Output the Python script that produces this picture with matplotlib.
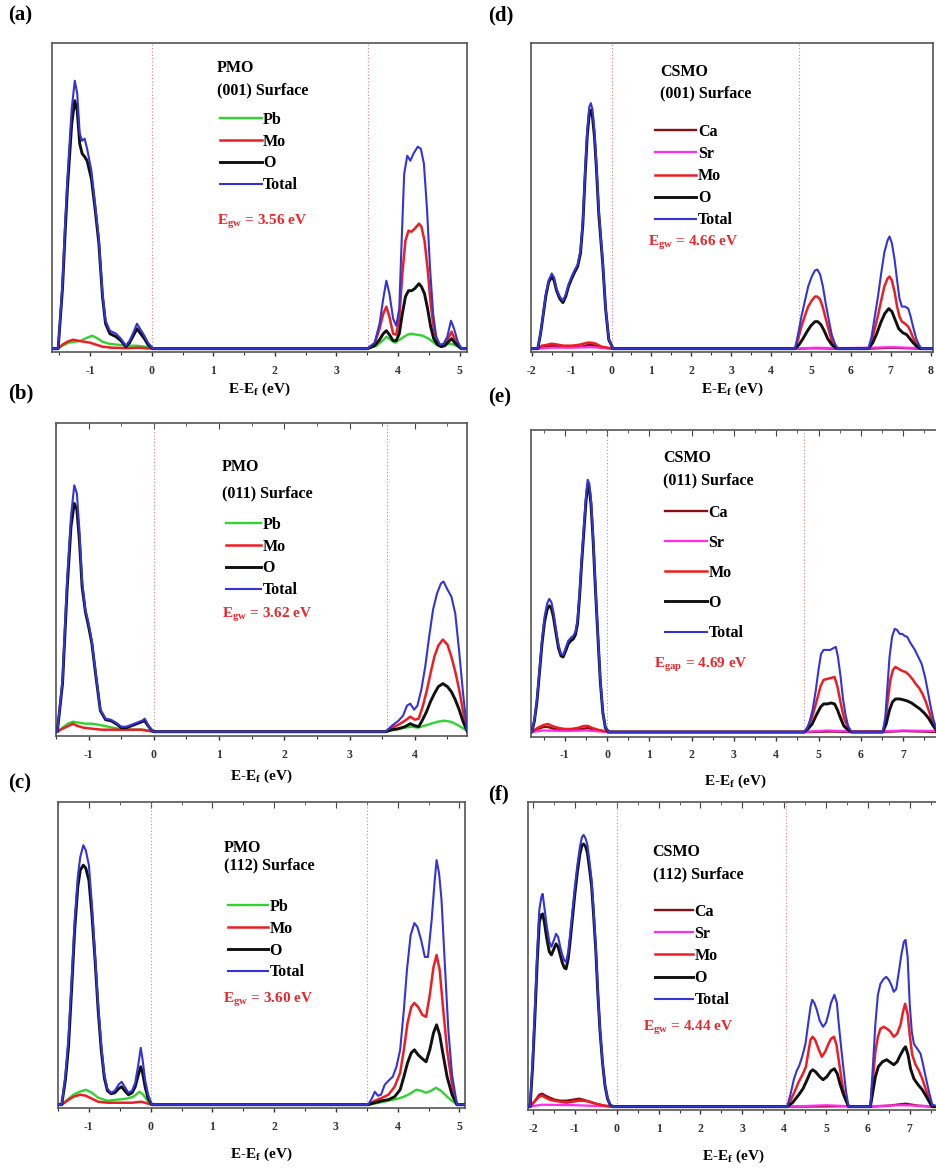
#!/usr/bin/env python3
"""Projected DOS of PMO and CSMO surfaces, six panels (a)-(f)."""

import matplotlib

matplotlib.use("Agg")
import matplotlib.pyplot as plt
from matplotlib.ticker import MultipleLocator

plt.rcParams["font.family"] = ["Liberation Serif", "DejaVu Serif"]
plt.rcParams["font.weight"] = "bold"
plt.rcParams["axes.unicode_minus"] = False
plt.rcParams["mathtext.fontset"] = "custom"
plt.rcParams["mathtext.rm"] = "Liberation Serif:bold"
plt.rcParams["mathtext.it"] = "Liberation Serif:bold"
plt.rcParams["mathtext.bf"] = "Liberation Serif:bold"

COLORS = {"Pb": "#2fd42f", "Ca": "#8a0f12", "Sr": "#ff2cf0", "Mo": "#ec1e24",
          "O": "#111111", "Total": "#3434d6"}
WIDTHS = {"Pb": 1.7, "Ca": 1.7, "Sr": 1.6, "Mo": 1.8, "O": 2.1, "Total": 1.5}

# ---------------- (a) PMO (001) : (E - Ef [eV], DOS [arb.]) ----------------
A_PB = [(-1.62, 0), (-1.53, 0), (-1.45, 3), (-1.35, 6), (-1.25, 7), (-1.15, 8), (-1.05, 11),
        (-0.97, 13), (-0.90, 11), (-0.80, 7), (-0.70, 5), (-0.55, 4), (-0.40, 3), (-0.25, 3),
        (-0.10, 2), (0.02, 0), (3.50, 0), (3.65, 3), (3.75, 8), (3.81, 12), (3.88, 9),
        (3.95, 6), (4.05, 10), (4.15, 14), (4.22, 15), (4.30, 14), (4.40, 13), (4.50, 10),
        (4.60, 5), (4.70, 3), (4.85, 5), (4.95, 3), (5.03, 0), (5.12, 0)]
A_MO = [(-1.62, 0), (-1.53, 0), (-1.45, 4), (-1.37, 7), (-1.28, 9), (-1.20, 8), (-1.10, 7),
        (-1.00, 6), (-0.90, 4), (-0.80, 2), (-0.65, 1), (-0.40, 0.5), (-0.20, 1), (0.02, 0),
        (3.50, 0), (3.62, 5), (3.70, 20), (3.76, 35), (3.81, 42), (3.86, 32), (3.92, 15),
        (3.97, 14), (4.02, 30), (4.07, 75), (4.12, 108), (4.17, 118), (4.22, 117), (4.27, 120),
        (4.34, 125), (4.38, 122), (4.43, 108), (4.48, 80), (4.53, 45), (4.58, 20), (4.64, 6),
        (4.70, 3), (4.76, 5), (4.82, 11), (4.87, 17), (4.92, 10), (4.97, 4), (5.03, 0), (5.12, 0)]
A_O = [(-1.62, 0), (-1.52, 0), (-1.45, 60), (-1.41, 112), (-1.37, 160), (-1.30, 225),
       (-1.25, 248), (-1.21, 238), (-1.17, 205), (-1.13, 195), (-1.09, 192), (-1.05, 188),
       (-0.98, 170), (-0.92, 140), (-0.86, 106), (-0.80, 52), (-0.75, 25), (-0.68, 15),
       (-0.58, 12), (-0.50, 8), (-0.42, 2), (-0.36, 6), (-0.30, 13), (-0.24, 20), (-0.18, 15),
       (-0.12, 10), (-0.06, 4), (0.02, 0), (3.50, 0), (3.62, 3), (3.70, 9), (3.76, 15),
       (3.81, 18), (3.86, 14), (3.92, 8), (3.97, 8), (4.02, 15), (4.07, 35), (4.12, 52),
       (4.17, 58), (4.22, 58), (4.27, 60), (4.34, 65), (4.38, 62), (4.43, 55), (4.48, 40),
       (4.53, 22), (4.58, 10), (4.64, 4), (4.70, 2), (4.76, 3), (4.82, 7), (4.87, 10),
       (4.92, 6), (4.97, 3), (5.03, 0), (5.12, 0)]
A_TOTAL = [(-1.62, 0), (-1.52, 0), (-1.45, 65), (-1.41, 121), (-1.37, 170), (-1.30, 240),
           (-1.25, 268), (-1.21, 255), (-1.17, 215), (-1.13, 208), (-1.09, 210), (-1.05, 200),
           (-0.98, 178), (-0.92, 145), (-0.86, 110), (-0.80, 55), (-0.75, 28), (-0.68, 18),
           (-0.58, 15), (-0.50, 10), (-0.42, 3), (-0.36, 8), (-0.30, 16), (-0.24, 25),
           (-0.18, 19), (-0.12, 13), (-0.06, 6), (0.02, 0), (3.50, 0), (3.62, 6), (3.70, 25),
           (3.76, 50), (3.81, 68), (3.86, 55), (3.92, 30), (3.97, 23), (4.02, 40), (4.06, 110),
           (4.10, 175), (4.15, 193), (4.20, 188), (4.25, 195), (4.32, 202), (4.37, 200),
           (4.42, 185), (4.47, 140), (4.52, 80), (4.57, 35), (4.62, 12), (4.68, 4), (4.74, 5),
           (4.80, 12), (4.86, 28), (4.91, 20), (4.97, 7), (5.03, 0), (5.12, 0)]

# ---------------- (b) PMO (011) ----------------
B_PB = [(-1.50, 0), (-1.48, 0), (-1.40, 4), (-1.32, 8), (-1.24, 10), (-1.15, 9), (-1.05, 8),
        (-0.95, 8), (-0.85, 7), (-0.70, 5), (-0.55, 3), (-0.35, 2), (-0.15, 2), (0.00, 0),
        (3.55, 0), (3.70, 2), (3.85, 4), (3.95, 5), (4.05, 4), (4.15, 6), (4.25, 8),
        (4.35, 10), (4.45, 11), (4.55, 10), (4.65, 7), (4.75, 3), (4.80, 1)]
B_MO = [(-1.50, 0), (-1.48, 0), (-1.40, 3), (-1.30, 6), (-1.24, 8), (-1.18, 6), (-1.08, 4),
        (-0.95, 3), (-0.80, 2), (-0.60, 2), (-0.40, 2), (-0.20, 2), (0.00, 0), (3.55, 0),
        (3.65, 4), (3.75, 7), (3.85, 11), (3.93, 15), (4.00, 12), (4.06, 13), (4.12, 25),
        (4.18, 40), (4.24, 58), (4.30, 75), (4.36, 86), (4.43, 92), (4.50, 87), (4.56, 75),
        (4.62, 60), (4.68, 42), (4.74, 20), (4.80, 2)]
B_O = [(-1.50, 0), (-1.48, 0), (-1.40, 48), (-1.33, 142), (-1.27, 205), (-1.22, 228),
       (-1.18, 222), (-1.14, 190), (-1.10, 145), (-1.05, 120), (-1.00, 105), (-0.95, 88),
       (-0.89, 56), (-0.82, 21), (-0.74, 12), (-0.66, 11), (-0.58, 8), (-0.50, 4), (-0.42, 4),
       (-0.34, 6), (-0.26, 8), (-0.18, 10), (-0.14, 11), (-0.09, 6), (-0.04, 2), (0.00, 0),
       (3.55, 0), (3.65, 2), (3.75, 3), (3.85, 5), (3.93, 8), (4.00, 6), (4.06, 5), (4.12, 12),
       (4.18, 20), (4.24, 30), (4.30, 38), (4.36, 45), (4.43, 48), (4.50, 45), (4.56, 40),
       (4.62, 32), (4.68, 22), (4.74, 10), (4.80, 1)]
B_TOTAL = [(-1.50, 0), (-1.48, 0), (-1.40, 52), (-1.33, 152), (-1.27, 215), (-1.22, 246),
           (-1.18, 238), (-1.14, 200), (-1.10, 150), (-1.05, 122), (-1.00, 108), (-0.95, 90),
           (-0.89, 58), (-0.82, 22), (-0.74, 13), (-0.66, 12), (-0.58, 9), (-0.50, 5),
           (-0.42, 5), (-0.34, 7), (-0.26, 9), (-0.18, 11), (-0.14, 13), (-0.09, 7),
           (-0.04, 2), (0.00, 0), (3.55, 0), (3.65, 6), (3.75, 11), (3.82, 16), (3.88, 26),
           (3.93, 28), (3.99, 22), (4.04, 26), (4.10, 42), (4.16, 65), (4.22, 95), (4.28, 122),
           (4.34, 138), (4.40, 148), (4.44, 150), (4.50, 142), (4.56, 135), (4.62, 118),
           (4.68, 80), (4.74, 38), (4.80, 2)]

# ---------------- (c) PMO (112) ----------------
C_PB = [(-1.50, 0), (-1.44, 0), (-1.35, 5), (-1.25, 10), (-1.15, 13), (-1.05, 15), (-0.95, 12),
        (-0.85, 7), (-0.70, 4), (-0.55, 5), (-0.40, 6), (-0.28, 8), (-0.18, 13), (-0.12, 10),
        (-0.05, 4), (0.02, 0), (3.52, 0), (3.70, 2), (3.85, 4), (4.00, 6), (4.10, 8),
        (4.20, 11), (4.30, 15), (4.38, 14), (4.46, 12), (4.54, 14), (4.62, 17), (4.70, 14),
        (4.80, 8), (4.90, 3), (4.96, 0), (5.09, 0)]
C_MO = [(-1.50, 0), (-1.44, 0), (-1.35, 4), (-1.25, 8), (-1.14, 10), (-1.05, 9), (-0.95, 6),
        (-0.85, 3), (-0.70, 2), (-0.50, 2), (-0.30, 2), (-0.15, 3), (0.02, 0), (3.52, 0),
        (3.63, 4), (3.75, 7), (3.85, 10), (3.95, 18), (4.04, 32), (4.10, 55), (4.16, 82),
        (4.22, 98), (4.27, 102), (4.33, 98), (4.40, 90), (4.46, 88), (4.52, 110), (4.58, 138),
        (4.63, 150), (4.68, 135), (4.73, 100), (4.80, 55), (4.88, 20), (4.96, 0), (5.09, 0)]
C_O = [(-1.50, 0), (-1.44, 0), (-1.38, 25), (-1.33, 58), (-1.28, 115), (-1.23, 175),
       (-1.18, 218), (-1.14, 235), (-1.09, 240), (-1.05, 237), (-1.00, 225), (-0.95, 190),
       (-0.90, 145), (-0.85, 95), (-0.80, 55), (-0.75, 27), (-0.70, 14), (-0.64, 11),
       (-0.58, 12), (-0.52, 16), (-0.47, 18), (-0.42, 14), (-0.36, 10), (-0.30, 12),
       (-0.25, 18), (-0.20, 30), (-0.16, 38), (-0.13, 32), (-0.09, 18), (-0.04, 6), (0.02, 0),
       (3.52, 0), (3.63, 2), (3.75, 4), (3.85, 5), (3.95, 8), (4.04, 15), (4.10, 28),
       (4.16, 42), (4.22, 52), (4.27, 55), (4.33, 50), (4.40, 46), (4.46, 43), (4.52, 55),
       (4.58, 72), (4.63, 80), (4.68, 70), (4.73, 52), (4.80, 28), (4.88, 10), (4.96, 0),
       (5.09, 0)]
C_TOTAL = [(-1.50, 0), (-1.44, 0), (-1.38, 30), (-1.33, 68), (-1.28, 125), (-1.23, 185),
           (-1.18, 228), (-1.14, 248), (-1.09, 260), (-1.05, 255), (-1.00, 240), (-0.95, 200),
           (-0.90, 150), (-0.85, 100), (-0.80, 60), (-0.75, 30), (-0.70, 16), (-0.64, 12),
           (-0.58, 14), (-0.52, 20), (-0.47, 23), (-0.42, 18), (-0.36, 12), (-0.30, 14),
           (-0.25, 22), (-0.20, 40), (-0.16, 57), (-0.13, 45), (-0.09, 25), (-0.04, 10),
           (0.02, 0), (3.52, 0), (3.58, 6), (3.63, 13), (3.68, 9), (3.73, 10), (3.79, 20),
           (3.85, 24), (3.92, 28), (3.98, 38), (4.04, 55), (4.10, 95), (4.15, 135), (4.21, 170),
           (4.27, 182), (4.32, 178), (4.38, 165), (4.44, 148), (4.49, 148), (4.55, 185),
           (4.60, 225), (4.63, 245), (4.67, 232), (4.71, 205), (4.76, 145), (4.82, 75),
           (4.88, 30), (4.96, 0), (5.09, 0)]

# ---------------- (d) CSMO (001) ----------------
D_CA = [(-2.02, 0), (-1.85, 0), (-1.70, 2), (-1.50, 3), (-1.30, 2), (-1.00, 2), (-0.75, 2),
        (-0.55, 4), (-0.40, 3), (-0.20, 1), (0.05, 0), (4.60, 0), (5.10, 0.5), (5.67, 0),
        (6.44, 0), (7.00, 1), (7.78, 0), (8.06, 0)]
D_SR = [(-2.02, 0), (-1.85, 0), (-1.50, 1), (-1.00, 1), (-0.50, 1.5), (0.05, 0), (4.60, 0),
        (5.10, 1), (5.70, 0.5), (6.50, 1), (7.00, 1.5), (7.80, 0.5), (8.06, 0.5)]
D_MO = [(-2.02, 0), (-1.85, 0), (-1.75, 3), (-1.60, 4), (-1.50, 5), (-1.35, 4), (-1.20, 3),
        (-1.00, 3), (-0.80, 4), (-0.60, 6), (-0.50, 6), (-0.40, 5), (-0.25, 2), (-0.10, 1),
        (0.05, 0), (4.60, 0), (4.68, 10), (4.76, 22), (4.85, 33), (4.93, 42), (5.02, 48),
        (5.10, 52), (5.16, 52), (5.23, 49), (5.30, 41), (5.37, 30), (5.45, 18), (5.52, 8),
        (5.60, 3), (5.67, 0), (6.44, 0), (6.52, 7), (6.60, 20), (6.68, 33), (6.76, 48),
        (6.84, 62), (6.92, 70), (6.97, 72), (7.03, 68), (7.10, 56), (7.16, 42), (7.22, 32),
        (7.28, 27), (7.36, 25), (7.44, 22), (7.50, 17), (7.56, 11), (7.64, 5), (7.72, 1),
        (7.78, 0), (8.06, 0)]
D_O = [(-2.02, 0), (-1.85, 0), (-1.78, 15), (-1.72, 32), (-1.65, 52), (-1.58, 66), (-1.50, 72),
       (-1.44, 68), (-1.38, 58), (-1.30, 50), (-1.22, 46), (-1.15, 52), (-1.08, 62),
       (-1.00, 70), (-0.93, 76), (-0.85, 82), (-0.78, 95), (-0.72, 124), (-0.66, 175),
       (-0.61, 212), (-0.56, 234), (-0.52, 238), (-0.48, 232), (-0.43, 212), (-0.38, 180),
       (-0.32, 134), (-0.26, 104), (-0.22, 84), (-0.15, 40), (-0.07, 9), (0.04, 0), (4.60, 0),
       (4.70, 4), (4.80, 10), (4.90, 17), (5.00, 23), (5.10, 27), (5.17, 27), (5.25, 24),
       (5.33, 18), (5.42, 10), (5.52, 4), (5.62, 1), (5.67, 0), (6.44, 0), (6.55, 6),
       (6.65, 15), (6.75, 26), (6.85, 35), (6.95, 40), (7.03, 37), (7.12, 28), (7.20, 20),
       (7.30, 16), (7.40, 14), (7.48, 10), (7.56, 6), (7.66, 2), (7.75, 0), (8.06, 0)]
D_TOTAL = [(-2.02, 0), (-1.85, 0), (-1.78, 16), (-1.72, 33), (-1.65, 54), (-1.58, 68),
           (-1.50, 75), (-1.44, 71), (-1.38, 60), (-1.30, 52), (-1.22, 48), (-1.15, 54),
           (-1.08, 64), (-1.00, 72), (-0.93, 78), (-0.85, 84), (-0.78, 98), (-0.72, 128),
           (-0.66, 180), (-0.61, 218), (-0.56, 241), (-0.52, 245), (-0.48, 239), (-0.43, 218),
           (-0.38, 185), (-0.32, 138), (-0.26, 107), (-0.22, 86), (-0.15, 41), (-0.07, 10),
           (0.04, 0), (4.60, 0), (4.68, 15), (4.76, 32), (4.85, 48), (4.93, 62), (5.02, 72),
           (5.10, 78), (5.16, 79), (5.23, 74), (5.30, 62), (5.37, 45), (5.45, 28), (5.52, 14),
           (5.60, 5), (5.67, 0), (6.44, 0), (6.52, 12), (6.60, 32), (6.68, 52), (6.76, 75),
           (6.84, 96), (6.92, 108), (6.97, 112), (7.03, 105), (7.10, 88), (7.16, 68),
           (7.22, 50), (7.28, 42), (7.36, 42), (7.44, 40), (7.50, 32), (7.56, 22), (7.64, 10),
           (7.72, 3), (7.78, 0), (8.06, 0)]

# ---------------- (e) CSMO (011) ----------------
E_CA = [(-1.80, 0), (-1.78, 0), (-1.65, 3), (-1.50, 5), (-1.40, 5), (-1.25, 3), (-1.05, 2),
        (-0.85, 2), (-0.60, 3), (-0.45, 4), (-0.30, 2), (-0.10, 1), (0.04, 0), (4.66, 0),
        (5.30, 0.5), (5.78, 0), (6.52, 0), (7.00, 1), (7.85, 0)]
E_SR = [(-1.80, 0), (-1.78, 0), (-1.50, 1.5), (-1.00, 1), (-0.50, 1.5), (0.04, 0), (4.66, 0),
        (5.20, 1.5), (5.80, 0.5), (6.50, 0.5), (7.00, 1.5), (7.85, 1)]
E_MO = [(-1.80, 0), (-1.78, 0), (-1.65, 4), (-1.50, 7), (-1.40, 8), (-1.30, 6), (-1.15, 4),
        (-1.00, 3), (-0.85, 3), (-0.70, 4), (-0.55, 6), (-0.45, 6), (-0.35, 4), (-0.20, 2),
        (0.04, 0), (4.66, 0), (4.75, 5), (4.85, 15), (4.95, 30), (5.05, 46), (5.12, 52),
        (5.20, 53), (5.30, 54), (5.38, 55), (5.45, 45), (5.52, 30), (5.60, 14), (5.70, 4),
        (5.78, 0), (6.52, 0), (6.58, 10), (6.64, 32), (6.70, 52), (6.76, 62), (6.82, 65),
        (6.90, 63), (6.98, 61), (7.06, 60), (7.14, 57), (7.22, 53), (7.30, 48), (7.38, 44),
        (7.46, 38), (7.54, 30), (7.62, 20), (7.70, 9), (7.80, 1), (7.85, 0)]
E_O = [(-1.80, 0), (-1.78, 0), (-1.72, 11), (-1.66, 30), (-1.60, 59), (-1.54, 88), (-1.48, 110),
       (-1.42, 122), (-1.37, 126), (-1.32, 124), (-1.27, 115), (-1.21, 99), (-1.15, 84),
       (-1.09, 76), (-1.04, 75), (-0.98, 81), (-0.92, 88), (-0.86, 91), (-0.80, 93),
       (-0.75, 97), (-0.70, 108), (-0.65, 136), (-0.60, 170), (-0.55, 200), (-0.50, 230),
       (-0.46, 247), (-0.42, 243), (-0.38, 227), (-0.33, 191), (-0.28, 146), (-0.22, 97),
       (-0.16, 50), (-0.10, 19), (-0.04, 4), (0.04, 0), (4.66, 0), (4.75, 3), (4.85, 8),
       (4.95, 17), (5.05, 25), (5.12, 28), (5.20, 28), (5.30, 29), (5.38, 28), (5.45, 22),
       (5.52, 14), (5.60, 6), (5.70, 2), (5.78, 0), (6.52, 0), (6.60, 8), (6.68, 22),
       (6.75, 30), (6.82, 33), (6.92, 33), (7.02, 32), (7.10, 31), (7.20, 29), (7.30, 26),
       (7.40, 23), (7.50, 19), (7.60, 14), (7.70, 7), (7.80, 1), (7.85, 0)]
E_TOTAL = [(-1.80, 0), (-1.78, 0), (-1.72, 12), (-1.66, 32), (-1.60, 62), (-1.54, 92),
           (-1.48, 115), (-1.42, 128), (-1.37, 133), (-1.32, 130), (-1.27, 120), (-1.21, 103),
           (-1.15, 87), (-1.09, 78), (-1.04, 77), (-0.98, 84), (-0.92, 91), (-0.86, 94),
           (-0.80, 96), (-0.75, 100), (-0.70, 112), (-0.65, 140), (-0.60, 175), (-0.55, 205),
           (-0.50, 235), (-0.46, 252), (-0.42, 248), (-0.38, 232), (-0.33, 195), (-0.28, 150),
           (-0.22, 100), (-0.16, 52), (-0.10, 20), (-0.04, 5), (0.04, 0), (4.66, 0), (4.72, 3),
           (4.78, 9), (4.86, 22), (4.93, 40), (5.00, 62), (5.06, 78), (5.12, 82), (5.20, 82),
           (5.28, 82), (5.36, 84), (5.41, 85), (5.46, 75), (5.52, 56), (5.58, 33), (5.64, 17),
           (5.70, 6), (5.78, 0), (6.52, 0), (6.58, 15), (6.63, 45), (6.68, 75), (6.74, 95),
           (6.80, 103), (6.86, 102), (6.92, 98), (6.98, 98), (7.04, 96), (7.10, 95), (7.16, 90),
           (7.22, 86), (7.28, 82), (7.36, 75), (7.44, 68), (7.52, 55), (7.58, 42), (7.64, 28),
           (7.72, 12), (7.80, 2), (7.85, 0)]

# ---------------- (f) CSMO (112) ----------------
F_CA = [(-2.12, 0), (-2.07, 0), (-1.95, 6), (-1.85, 12), (-1.78, 13), (-1.70, 11), (-1.60, 9),
        (-1.48, 7), (-1.35, 6), (-1.20, 6), (-1.05, 7), (-0.90, 8), (-0.80, 7), (-0.65, 5),
        (-0.50, 3), (-0.30, 1), (-0.08, 0), (4.07, 0), (5.50, 0.5), (6.06, 0), (6.50, 1),
        (6.90, 3), (7.20, 1), (7.54, 0), (7.70, 0)]
F_SR = [(-2.12, 0), (-2.07, 0), (-1.80, 2), (-1.00, 1.5), (-0.30, 0.5), (-0.08, 0), (4.07, 0),
        (5.00, 1.5), (5.54, 0.5), (6.06, 0.5), (6.80, 1.5), (7.54, 0.5), (7.70, 0.5)]
F_MO = [(-2.12, 0), (-2.07, 0), (-1.95, 6), (-1.85, 10), (-1.78, 11), (-1.70, 9), (-1.60, 7),
        (-1.50, 6), (-1.35, 5), (-1.20, 4), (-1.05, 5), (-0.90, 6), (-0.80, 6), (-0.65, 5),
        (-0.50, 3), (-0.30, 1), (-0.08, 0), (4.07, 0), (4.15, 6), (4.25, 15), (4.35, 25),
        (4.45, 33), (4.52, 40), (4.58, 55), (4.63, 67), (4.68, 70), (4.74, 67), (4.82, 58),
        (4.90, 50), (4.98, 55), (5.06, 63), (5.12, 68), (5.19, 70), (5.25, 62), (5.31, 45),
        (5.38, 25), (5.45, 10), (5.54, 0), (6.06, 0), (6.12, 28), (6.18, 55), (6.24, 70),
        (6.30, 78), (6.38, 80), (6.46, 78), (6.54, 75), (6.62, 70), (6.70, 73), (6.78, 82),
        (6.84, 95), (6.89, 103), (6.95, 93), (7.00, 72), (7.06, 52), (7.14, 42), (7.22, 36),
        (7.30, 28), (7.38, 18), (7.46, 8), (7.54, 0), (7.70, 0)]
F_O = [(-2.12, 0), (-2.07, 0), (-2.01, 40), (-1.95, 95), (-1.90, 145), (-1.85, 185),
       (-1.80, 192), (-1.77, 193), (-1.73, 185), (-1.67, 168), (-1.61, 155), (-1.56, 152),
       (-1.50, 158), (-1.45, 163), (-1.40, 160), (-1.35, 152), (-1.30, 144), (-1.25, 139),
       (-1.21, 138), (-1.16, 148), (-1.12, 163), (-1.06, 188), (-1.00, 213), (-0.94, 235),
       (-0.88, 253), (-0.83, 262), (-0.79, 263), (-0.74, 260), (-0.70, 254), (-0.65, 238),
       (-0.60, 221), (-0.55, 190), (-0.50, 156), (-0.45, 112), (-0.40, 76), (-0.34, 44),
       (-0.28, 21), (-0.22, 8), (-0.16, 2), (-0.08, 0), (4.07, 0), (4.20, 4), (4.35, 12),
       (4.45, 18), (4.55, 27), (4.63, 35), (4.68, 37), (4.75, 35), (4.85, 30), (4.93, 27),
       (5.02, 30), (5.12, 36), (5.20, 38), (5.27, 33), (5.34, 22), (5.42, 12), (5.50, 4),
       (5.54, 0), (6.06, 0), (6.12, 15), (6.18, 30), (6.25, 40), (6.35, 45), (6.45, 47),
       (6.55, 44), (6.62, 42), (6.70, 45), (6.78, 52), (6.86, 58), (6.90, 60), (6.96, 52),
       (7.02, 38), (7.10, 28), (7.20, 22), (7.30, 17), (7.40, 10), (7.48, 4), (7.54, 0),
       (7.70, 0)]
F_TOTAL = [(-2.12, 0), (-2.07, 0), (-2.01, 45), (-1.95, 103), (-1.90, 155), (-1.85, 197),
           (-1.80, 210), (-1.77, 213), (-1.73, 200), (-1.67, 180), (-1.61, 165), (-1.56, 160),
           (-1.50, 167), (-1.45, 173), (-1.40, 170), (-1.35, 160), (-1.30, 152), (-1.25, 146),
           (-1.21, 145), (-1.16, 155), (-1.12, 170), (-1.06, 195), (-1.00, 220), (-0.94, 242),
           (-0.88, 260), (-0.83, 270), (-0.79, 272), (-0.74, 268), (-0.70, 262), (-0.65, 245),
           (-0.60, 227), (-0.55, 195), (-0.50, 160), (-0.45, 115), (-0.40, 78), (-0.34, 45),
           (-0.28, 22), (-0.22, 9), (-0.16, 2), (-0.08, 0), (4.07, 0), (4.15, 12), (4.23, 27),
           (4.30, 36), (4.36, 41), (4.43, 50), (4.51, 63), (4.58, 85), (4.63, 100), (4.67, 107),
           (4.72, 104), (4.78, 97), (4.85, 86), (4.93, 80), (5.00, 84), (5.06, 93), (5.12, 104),
           (5.20, 112), (5.26, 104), (5.30, 85), (5.36, 60), (5.42, 37), (5.48, 15), (5.54, 0),
           (6.06, 0), (6.12, 40), (6.18, 83), (6.24, 112), (6.30, 123), (6.38, 128), (6.44, 130),
           (6.50, 127), (6.56, 122), (6.62, 115), (6.68, 118), (6.74, 135), (6.80, 152),
           (6.86, 165), (6.90, 167), (6.95, 150), (7.00, 103), (7.05, 75), (7.10, 63),
           (7.18, 58), (7.26, 53), (7.32, 42), (7.38, 30), (7.46, 15), (7.54, 2), (7.70, 0)]

MATERIALS = ["PMO", "PMO", "PMO", "CSMO", "CSMO", "CSMO"]
SURFACES = ["(001) Surface", "(011) Surface", "(112) Surface"] * 2
GAP_SUB = ["gw", "gw", "gw", "gw", "gap", "gw"]
GAP_EV = [3.56, 3.62, 3.60, 4.66, 4.69, 4.44]
GAP_LINE = [3.51, 3.58, 3.50, 4.69, 4.66, 4.05]        # dotted CBM marker
XLIMS = [(-1.62, 5.12), (-1.50, 4.80), (-1.50, 5.09),
         (-2.02, 8.06), (-1.80, 7.85), (-2.12, 7.70)]
YLIMS = [(-3.3, 305.7), (-4.3, 308.3), (-3.3, 303.3),
         (-3.3, 305.0), (-5.0, 301.7), (-3.3, 305.0)]

PMO_SERIES = ["Pb", "Mo", "O", "Total"]
CSMO_SERIES = ["Ca", "Sr", "Mo", "O", "Total"]
SERIES = [
    dict(zip(PMO_SERIES, (A_PB, A_MO, A_O, A_TOTAL))),
    dict(zip(PMO_SERIES, (B_PB, B_MO, B_O, B_TOTAL))),
    dict(zip(PMO_SERIES, (C_PB, C_MO, C_O, C_TOTAL))),
    dict(zip(CSMO_SERIES, (D_CA, D_SR, D_MO, D_O, D_TOTAL))),
    dict(zip(CSMO_SERIES, (E_CA, E_SR, E_MO, E_O, E_TOTAL))),
    dict(zip(CSMO_SERIES, (F_CA, F_SR, F_MO, F_O, F_TOTAL))),
]

# ---- layout (pixels on the 937x1169 canvas) ----
W, H = 937, 1169
BOXES = [(52, 43, 467, 352), (56, 423, 467, 736), (58, 802, 465, 1108),
         (531, 43, 933, 352), (531, 430, 939, 737), (528, 802, 939, 1110)]
TAGS = [("(a)", 8, 15), ("(b)", 8, 393), ("(c)", 8, 783),
        ("(d)", 488, 15), ("(e)", 488, 397), ("(f)", 488, 794)]
# name x, name y, surface y, gap-label x, gap-label y (axes fraction)
TEXT_POS = [(0.398, 0.919, 0.848, 0.398, 0.42), (0.404, 0.859, 0.776, 0.404, 0.387),
            (0.408, 0.850, 0.794, 0.405, 0.353), (0.321, 0.906, 0.838, 0.291, 0.353),
            (0.324, 0.909, 0.837, 0.302, 0.235), (0.303, 0.838, 0.766, 0.281, 0.266)]
# legend x, legend top y, labelspacing, handlelength
LEG_POS = [(0.405, 0.777, 0.36, 2.6), (0.413, 0.700, 0.36, 2.2), (0.418, 0.683, 0.36, 2.5),
           (0.308, 0.738, 0.38, 2.6), (0.329, 0.756, 0.88, 2.6), (0.308, 0.669, 0.38, 2.4)]
XLABEL_Y = [-0.094, -0.102, -0.124, -0.094, -0.117, -0.123]
TOP_TICKS = [False, True, True, False, True, True]

fig = plt.figure(figsize=(W / 100, H / 100), dpi=100)

for i in range(6):
    l, t, r, b = BOXES[i]
    ax = fig.add_axes([l / W, 1 - b / H, (r - l) / W, (b - t) / H])
    for name, pts in SERIES[i].items():
        e, d = zip(*pts)
        ax.plot(e, d, color=COLORS[name], lw=WIDTHS[name], label=name,
                solid_joinstyle="round", zorder=3)
    for xv in (0.0, GAP_LINE[i]):
        ax.axvline(xv, color="#e57a7a", lw=0.8, ls=(0, (1, 2)), zorder=1)

    ax.set_xlim(XLIMS[i])
    ax.set_ylim(YLIMS[i])
    ax.set_yticks([])
    ax.xaxis.set_major_locator(MultipleLocator(1))
    ax.xaxis.set_minor_locator(MultipleLocator(0.5))
    ax.tick_params(axis="x", which="major", direction="out", length=3, width=1.0,
                   pad=6, labelsize=8.5, colors="#333333")
    ax.tick_params(axis="x", which="minor", direction="out", length=2, width=0.8,
                   colors="#333333")
    for lab in ax.get_xticklabels():
        lab.set_fontweight("bold")
    if TOP_TICKS[i]:
        top = ax.secondary_xaxis("top")
        top.xaxis.set_major_locator(MultipleLocator(1))
        top.xaxis.set_minor_locator(MultipleLocator(0.5))
        top.tick_params(which="both", direction="in", labeltop=False, colors="#444444")
        top.tick_params(which="major", length=4)
        top.tick_params(which="minor", length=2.5)
        top.spines["top"].set_visible(False)
    for sp in ax.spines.values():
        sp.set_color("#555555")
        sp.set_linewidth(1.2)

    ax.set_xlabel(r"E-E$_{\mathrm{f}}$ (eV)", fontsize=11, fontweight="bold")
    ax.xaxis.set_label_coords(0.5, XLABEL_Y[i])

    nx, ny, sy, gx, gy = TEXT_POS[i]
    ax.text(nx, ny, MATERIALS[i], transform=ax.transAxes, fontsize=11.5,
            fontweight="bold", va="center", ha="left")
    ax.text(nx, sy, SURFACES[i], transform=ax.transAxes, fontsize=11.5,
            fontweight="bold", va="center", ha="left")
    ax.text(gx, gy, "E$_{\\mathrm{%s}}$ = %.2f eV" % (GAP_SUB[i], GAP_EV[i]),
            transform=ax.transAxes, fontsize=11, fontweight="bold", color="#e8262c",
            va="center", ha="left")

    lx, ly, lsp, hl = LEG_POS[i]
    ax.legend(loc="upper left", bbox_to_anchor=(lx, ly), frameon=False,
              borderpad=0, borderaxespad=0, handlelength=hl, handletextpad=0.1,
              labelspacing=lsp, prop={"family": "Liberation Serif", "weight": "bold",
                                      "size": 11.5})

for tag, x, y in TAGS:
    fig.text(x / W, 1 - y / H, tag, fontsize=15, fontweight="bold", va="center", ha="left")

fig.savefig("out.png", dpi=100, facecolor="white")
